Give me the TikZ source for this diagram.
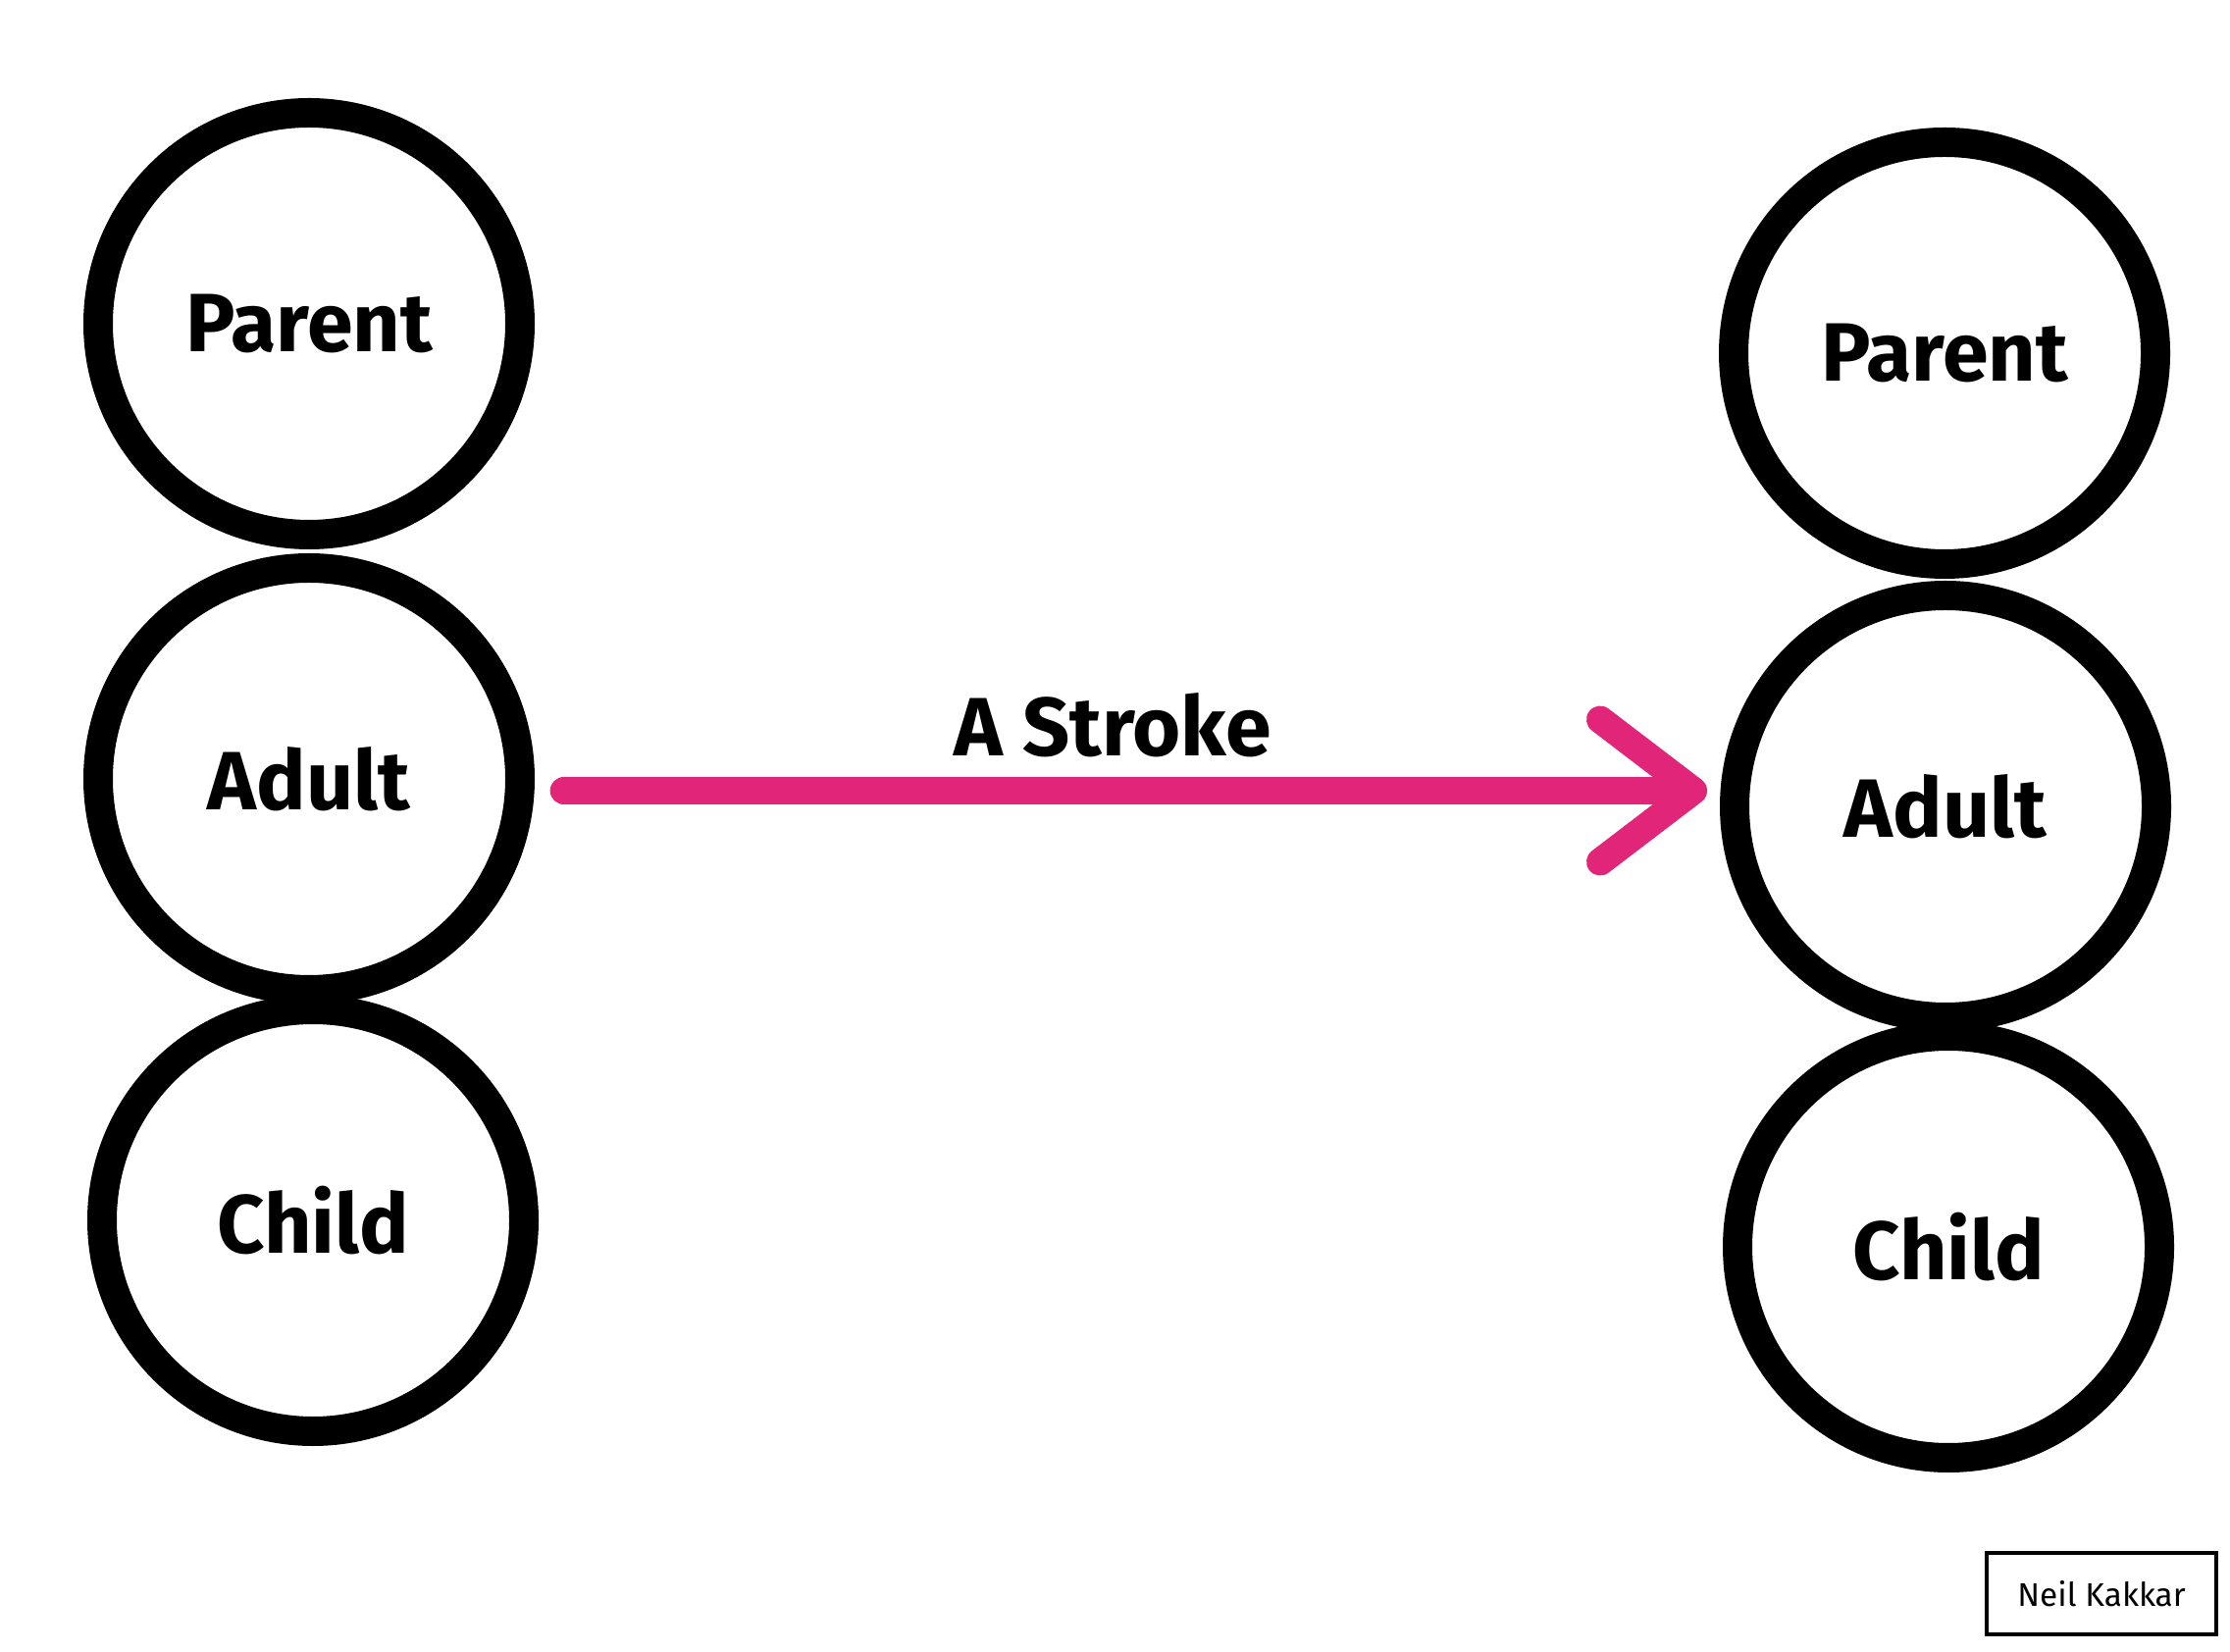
\documentclass[tikz,border=0pt]{standalone}
\usepackage{fontspec}
\setmainfont{Fira Sans}
\usetikzlibrary{arrows.meta}
\definecolor{strokepink}{RGB}{225,38,122}
\begin{document}
\begin{tikzpicture}[
  role/.style={circle, draw=black, line width=3mm, minimum size=4.3cm, inner sep=0pt,
    font=\fontsize{24}{28}\selectfont\bfseries},
  pinkstroke/.style={draw=strokepink, line width=2.8mm, line cap=round,
    -{Straight Barb[length=0.95cm, width=1.45cm, round]}},
  signbox/.style={draw=black, line width=1.2pt, minimum width=2.34cm, minimum height=0.83cm,
    inner sep=0pt, font=\fontsize{9.5}{11}\selectfont}
]
\useasboundingbox (0,0) rectangle (22.73,16.83);

\node[role] (lparent) at (3.15,13.53) {Parent};
\node[role] (ladult)  at (3.15,8.89)  {Adult};
\node[role] (lchild)  at (3.19,4.39)  {Child};

\node[role] (rparent) at (19.82,13.23) {Parent};
\node[role] (radult)  at (19.83,8.61)  {Adult};
\node[role] (rchild)  at (19.86,4.12)  {Child};

\draw[pinkstroke] ([xshift=3mm]ladult.-3) -- ([xshift=-1.3mm]radult.west |- ladult.-3)
  node[pos=0.48, above=0.8mm, text=black, font=\fontsize{24}{28}\selectfont\bfseries] (stroke) {A Stroke};

\node[signbox] (sign) at (21.42,0.585) {Neil Kakkar};
\end{tikzpicture}
\end{document}
